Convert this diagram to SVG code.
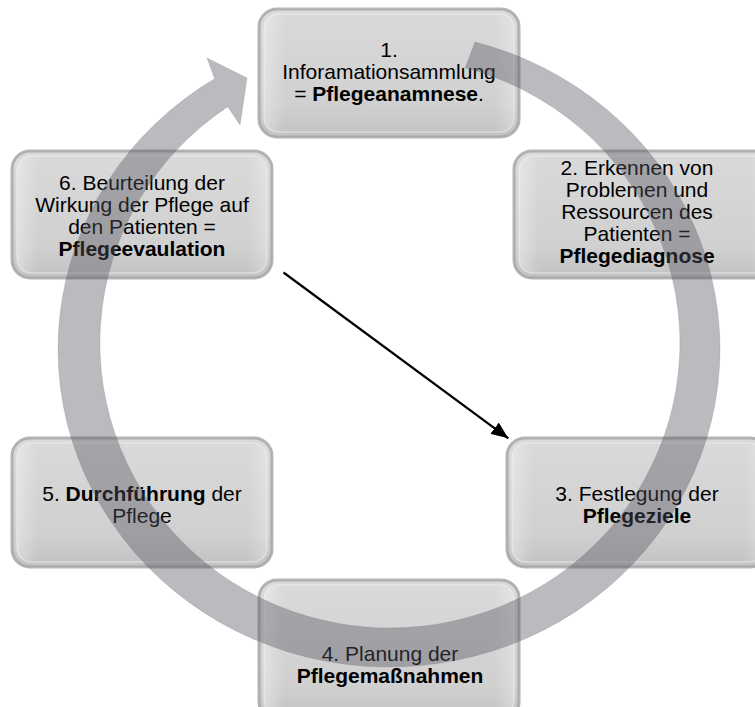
<svg xmlns="http://www.w3.org/2000/svg" width="755" height="707" viewBox="0 0 755 707">
<defs>
<linearGradient id="boxGrad" x1="0" y1="0" x2="0" y2="1">
<stop offset="0" stop-color="#dadada"/>
<stop offset="0.75" stop-color="#d0d0d0"/>
<stop offset="1" stop-color="#c2c2c4"/>
</linearGradient>
<linearGradient id="sideGrad" x1="0" y1="0" x2="1" y2="0">
<stop offset="0" stop-color="#ffffff" stop-opacity="0.35"/>
<stop offset="0.08" stop-color="#ffffff" stop-opacity="0"/>
<stop offset="0.92" stop-color="#ffffff" stop-opacity="0"/>
<stop offset="1" stop-color="#ffffff" stop-opacity="0.25"/>
</linearGradient>
<marker id="arrowHead" markerUnits="userSpaceOnUse" markerWidth="18" markerHeight="14" refX="17" refY="7" orient="auto">
<path d="M0,0 L17,7 L0,14 z" fill="#000"/>
</marker>
<style>
.box{fill:url(#boxGrad);stroke:#a2a2a2;stroke-width:3;stroke-opacity:0.8}
.sheen{fill:url(#sideGrad);stroke:#f2f2f2;stroke-width:1.5;stroke-opacity:0.5}
.lbl{font-family:"Liberation Sans",Arial,sans-serif;font-size:21px;fill:#000;text-anchor:middle}
.b{font-weight:bold}
.ring{fill:#55555f;fill-opacity:0.4;stroke:#6a6a72;stroke-opacity:0.2;stroke-width:1}
.conn{stroke:#000;stroke-width:2.2;fill:none}
</style>
</defs>
<rect width="755" height="707" fill="#ffffff"/>

<g id="node1">
<rect class="box" x="259" y="9" width="260" height="128" rx="18"/>
<rect class="sheen" x="264" y="14" width="250" height="118" rx="14"/>
<text class="lbl" x="389" y="57">1.</text>
<text class="lbl" x="389" y="79">Inforamationsammlung</text>
<text class="lbl" x="389" y="101">= <tspan class="b">Pflegeanamnese</tspan>.</text>
</g>

<g id="node2">
<rect class="box" x="514" y="151" width="262" height="127" rx="18"/>
<rect class="sheen" x="519" y="156" width="252" height="117" rx="14"/>
<text class="lbl" x="637" y="175">2. Erkennen von</text>
<text class="lbl" x="637" y="197">Problemen und</text>
<text class="lbl" x="637" y="219">Ressourcen des</text>
<text class="lbl" x="637" y="241">Patienten =</text>
<text class="lbl b" x="637" y="263">Pflegediagnose</text>
</g>

<g id="node3">
<rect class="box" x="507" y="438" width="262" height="129" rx="18"/>
<rect class="sheen" x="512" y="443" width="252" height="119" rx="14"/>
<text class="lbl" x="637" y="501">3. Festlegung der</text>
<text class="lbl b" x="637" y="523">Pflegeziele</text>
</g>

<g id="node4">
<rect class="box" x="259" y="580" width="260" height="140" rx="18"/>
<rect class="sheen" x="264" y="585" width="250" height="130" rx="14"/>
<text class="lbl" x="390" y="661">4. Planung der</text>
<text class="lbl b" x="390" y="683">Pflegemaßnahmen</text>
</g>

<g id="node5">
<rect class="box" x="12" y="438" width="260" height="129" rx="18"/>
<rect class="sheen" x="17" y="443" width="250" height="119" rx="14"/>
<text class="lbl" x="142" y="501">5. <tspan class="b">Durchführung</tspan> der</text>
<text class="lbl" x="142" y="523">Pflege</text>
</g>

<g id="node6">
<rect class="box" x="12" y="151" width="260" height="127" rx="18"/>
<rect class="sheen" x="17" y="156" width="250" height="117" rx="14"/>
<text class="lbl" x="142" y="190">6. Beurteilung der</text>
<text class="lbl" x="142" y="212">Wirkung der Pflege auf</text>
<text class="lbl" x="142" y="234">den Patienten =</text>
<text class="lbl b" x="142" y="256">Pflegeevaulation</text>
</g>

<g id="connectors">
<path id="cycle" class="ring" d="M475,41.9 A331,318 0 1 1 214.6,78.7 L207,58 L247,78 L240,125 L227.8,106.7 A290,285 0 1 0 465.3,67.8 Z"/>
<line id="arrow6to3" class="conn" x1="283.5" y1="272.5" x2="508.3" y2="438.3" marker-end="url(#arrowHead)"/>
</g>
</svg>
